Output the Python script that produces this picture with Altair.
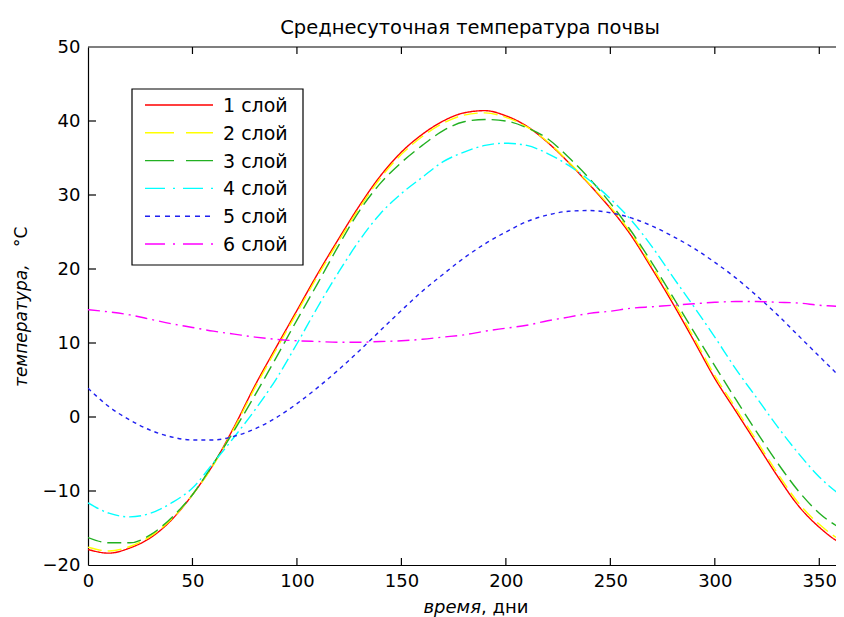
import altair as alt
import pandas as pd

# ---- data ----
days = [0, 10, 20, 30, 40, 50, 60, 70, 80, 90, 100, 110, 120, 130, 140, 150, 160, 170, 180,
        190, 200, 210, 220, 230, 240, 250, 260, 270, 280, 290, 300, 310, 320, 330, 340, 350, 360, 365]

layer1 = [-17.9, -18.4, -17.7, -16.3, -13.9, -10.5, -6.4, -1.3, 4.3, 9.4, 14.4, 19.4, 24.1, 28.6,
          32.6, 35.8, 38.2, 40.0, 41.1, 41.4, 40.7, 39.3, 37.1, 34.4, 31.4, 28.2, 24.5, 20.0, 15.3,
          10.3, 5.2, 0.8, -3.6, -8.0, -12.0, -14.9, -17.0, -17.6]
layer2 = [-17.6, -18.1, -17.5, -16.1, -13.8, -10.5, -6.5, -1.5, 4.0, 9.1, 14.1, 19.1, 23.8, 28.3,
          32.3, 35.5, 37.9, 39.7, 40.8, 41.1, 40.5, 39.2, 37.2, 34.5, 31.5, 28.4, 24.8, 20.3, 15.7,
          10.7, 5.6, 1.2, -3.2, -7.6, -11.6, -14.5, -16.6, -17.3]
layer3 = [-16.3, -17.0, -17.0, -15.9, -13.6, -10.5, -6.3, -1.8, 3.0, 8.0, 13.1, 18.1, 23.2, 27.9,
          31.6, 34.4, 36.7, 38.7, 39.9, 40.2, 40.0, 39.1, 37.6, 35.1, 32.2, 28.9, 25.1, 20.8, 16.2,
          11.5, 6.9, 2.4, -2.0, -6.2, -10.0, -13.0, -15.0, -15.7]
layer4 = [-11.6, -13.0, -13.5, -13.0, -11.6, -9.6, -6.2, -2.7, 1.0, 5.1, 9.9, 14.9, 19.6, 23.9,
          27.5, 30.2, 32.4, 34.5, 35.8, 36.7, 37.0, 36.7, 35.6, 34.0, 32.0, 29.5, 26.6, 23.0, 18.9,
          14.9, 10.8, 6.5, 2.6, -1.3, -4.9, -8.1, -10.5, -11.4]
layer5 = [3.9, 1.4, -0.4, -1.8, -2.7, -3.1, -3.1, -2.6, -1.6, -0.1, 1.8, 4.0, 6.4, 9.0, 11.7, 14.4,
          17.0, 19.3, 21.5, 23.4, 25.0, 26.4, 27.3, 27.8, 27.9, 27.6, 26.9, 25.8, 24.4, 22.8, 20.9,
          18.8, 16.4, 13.8, 11.0, 8.2, 5.4, 4.0]
layer6 = [14.5, 14.2, 13.8, 13.2, 12.6, 12.1, 11.6, 11.2, 10.8, 10.5, 10.3, 10.2, 10.1, 10.1, 10.2,
          10.3, 10.5, 10.8, 11.1, 11.6, 12.0, 12.4, 13.0, 13.5, 14.0, 14.3, 14.7, 14.9, 15.1, 15.3,
          15.5, 15.6, 15.6, 15.5, 15.4, 15.1, 14.9, 14.6]

names = ["1 слой", "2 слой", "3 слой", "4 слой", "5 слой", "6 слой"]
colors = ["#ff0000", "#ffff00", "#22b022", "#00ffff", "#2020f0", "#ff00ff"]
dashes = [[1, 0], [14, 6], [14, 6], [12, 4, 2, 4], [4, 4], [12, 5, 2, 5]]
legend_dashes = [[1, 0], [29, 12], [29, 12], [20, 8, 2, 8], [5, 5], [20, 8, 2, 8]]

x_ticks = [0, 50, 100, 150, 200, 250, 300, 350]
y_ticks = [-20, -10, 0, 10, 20, 30, 40, 50]

rows = []
for nm, vals in zip(names, [layer1, layer2, layer3, layer4, layer5, layer6]):
    for d, v in zip(days, vals):
        rows.append({"day": d, "temp": v, "layer": nm})
df = pd.DataFrame(rows)

# visible part of the plot area: the reference is cut at the right edge of the picture
W, H = 748, 518
X_MAX = 358  # day at the cut edge (2.09 px per day)
FONT = "DejaVu Sans"

xscale = alt.Scale(domain=[0, X_MAX], nice=False, zero=False)
yscale = alt.Scale(domain=[-20, 50], nice=False, zero=False)
xaxis = alt.Axis(values=x_ticks, ticks=False, domain=True, domainColor="black", domainWidth=1.2,
                 grid=False, title=None,
                 labelFontSize=18, labelFont=FONT, labelColor="black", labelPadding=7,
                 labelFlush=False, labelOverlap=False)
yaxis = alt.Axis(values=y_ticks, ticks=False, domain=True, domainColor="black", domainWidth=1.2,
                 grid=False, title=None,
                 labelFontSize=18, labelFont=FONT, labelColor="black", labelPadding=8,
                 labelFlush=False, labelOverlap=False)

X = alt.X("day:Q", scale=xscale, axis=xaxis)
Y = alt.Y("temp:Q", scale=yscale, axis=yaxis)

lines = alt.Chart(df).mark_line(strokeWidth=1.4, interpolate="monotone", clip=True).encode(
    x=X, y=Y,
    color=alt.Color("layer:N", scale=alt.Scale(domain=names, range=colors), legend=None),
    strokeDash=alt.StrokeDash("layer:N", scale=alt.Scale(domain=names, range=dashes), legend=None),
)

xt_df = pd.DataFrame({"day": x_ticks[1:]})
yt_df = pd.DataFrame({"temp": y_ticks[1:-1]})
one = pd.DataFrame({"k": [0]})

top_line = alt.Chart(one).mark_rule(color="black", strokeWidth=1.2).encode(
    x=alt.value(0), x2=alt.value(W), y=alt.value(0))
bottom_ticks = alt.Chart(xt_df).mark_rule(color="black", strokeWidth=1.2).encode(
    x=X, y=alt.value(H), y2=alt.value(H - 7))
top_ticks = alt.Chart(xt_df).mark_rule(color="black", strokeWidth=1.2).encode(
    x=X, y=alt.value(0), y2=alt.value(7))
left_ticks = alt.Chart(yt_df).mark_rule(color="black", strokeWidth=1.2).encode(
    y=Y, x=alt.value(0), x2=alt.value(8))

# legend box (manual, MATLAB style)
leg_layers = [
    alt.Chart(one).mark_rect(fill="white", stroke="black", strokeWidth=1.2).encode(
        x=alt.value(44), x2=alt.value(215), y=alt.value(42), y2=alt.value(218))
]
for i, nm in enumerate(names):
    ly = 58 + 27.8 * i
    leg_layers.append(
        alt.Chart(one).mark_rule(color=colors[i], strokeDash=legend_dashes[i], strokeWidth=1.4).encode(
            x=alt.value(57), x2=alt.value(125), y=alt.value(ly)))
    leg_layers.append(
        alt.Chart(one).mark_text(text=nm, align="left", baseline="middle", fontSize=19,
                                 font=FONT, color="black").encode(
            x=alt.value(135), y=alt.value(ly + 1)))

xt1 = alt.Chart(one).mark_text(text="время", align="right", baseline="alphabetic",
                               fontStyle="italic", fontSize=18, font=FONT, color="black").encode(
    x=alt.value(393), y=alt.value(566))
xt2 = alt.Chart(one).mark_text(text=", дни", align="left", baseline="alphabetic",
                               fontSize=18, font=FONT, color="black").encode(
    x=alt.value(393), y=alt.value(566))
yt1 = alt.Chart(one).mark_text(text="температура,", align="left", baseline="alphabetic",
                               angle=270, fontStyle="italic", fontSize=17, font=FONT,
                               color="black").encode(
    x=alt.value(-61), y=alt.value(340))
yt2 = alt.Chart(one).mark_text(text="°C", align="left", baseline="alphabetic",
                               angle=270, fontSize=17, font=FONT, color="black").encode(
    x=alt.value(-61), y=alt.value(200))

chart = alt.layer(lines, top_line, bottom_ticks, top_ticks, left_ticks,
                  *leg_layers, xt1, xt2, yt1, yt2).properties(
    width=W, height=H,
    title=alt.TitleParams("Среднесуточная температура почвы", fontSize=19.5, font=FONT,
                          fontWeight="normal", anchor="middle", offset=0, color="black", dx=8),
    autosize=alt.AutoSizeParams(type="none"),
    padding={"left": 80, "top": 39, "right": 0, "bottom": 52},
).configure_view(stroke="transparent", strokeWidth=0)

chart.save("out.html", embed_options={"renderer": "svg", "actions": False})
